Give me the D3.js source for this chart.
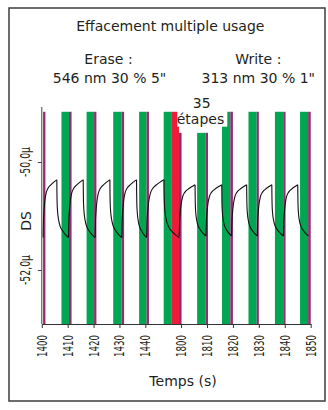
<!DOCTYPE html>
<html>
<head>
<meta charset="utf-8">
<script src="https://cdn.jsdelivr.net/npm/d3@7/dist/d3.min.js"></script>
<style>
  html, body { margin: 0; padding: 0; background: #fff; }
  svg { display: block; }
  text { font-family: "DejaVu Sans", sans-serif; fill: #231f20; }
</style>
</head>
<body>
<div id="chart"></div>
<script>
// ---------- data ----------
const title = "Effacement multiple usage";
const eraseLabel = ["Erase :", "546 nm 30 % 5\""];
const writeLabel = ["Write :", "313 nm 30 % 1\""];
const stepLabel = ["35", "étapes"];
const xTitle = "Temps (s)";
const yTitle = "DS";

// time axis is broken between 1450 and 1796.2 s
const xTicks = [1400, 1410, 1420, 1430, 1440, 1800, 1810, 1820, 1830, 1840, 1850];
const yTicks = [-50, -52];
const yTickLabels = ["-50,0µ", "-52,0µ"];

// illumination bars (start s, end s, kind, top DS)
const barStart = [1400.5, 1407.6, 1410.5, 1417.3, 1420.2, 1427.6, 1430.8, 1437.6, 1440.5, 1447.1,
                  1796.2, 1799.2, 1806.2, 1809.4, 1815.8, 1819.0, 1826.0, 1829.2, 1836.2, 1839.4, 1845.9, 1849.0];
const barEnd   = [1401.4, 1410.5, 1411.5, 1420.2, 1421.1, 1430.8, 1431.8, 1440.5, 1441.4, 1450.0,
                  1799.2, 1800.2, 1809.4, 1810.4, 1819.0, 1820.0, 1829.2, 1830.0, 1839.4, 1840.3, 1849.0, 1850.0];
const barKind  = ["write", "erase", "write", "erase", "write", "erase", "write", "erase", "write", "erase",
                  "steps", "write", "erase", "write", "erase", "write", "erase", "write", "erase", "write", "erase", "write"];
const barTop   = [-49.07, -49.07, -49.07, -49.07, -49.07, -49.07, -49.07, -49.07, -49.07, -49.07,
                  -49.07, -49.46, -49.46, -49.46, -49.07, -49.07, -49.07, -49.07, -49.07, -49.07, -49.07, -49.07];

// DS response, one rise + decay per cycle
const cycleStart = [1400.5, 1410.3, 1420.6, 1430.9, 1440.5, 1799.3, 1809.6, 1819.5, 1829.4, 1839.5];
const cyclePeak  = [1405.8, 1416.0, 1426.3, 1436.6, 1447.2, 1805.4, 1815.7, 1825.3, 1835.0, 1845.0];
const cycleEnd   = [1410.3, 1420.6, 1430.9, 1440.5, 1799.3, 1809.6, 1819.5, 1829.4, 1839.5, 1849.1];
const peakDS     = [-50.33, -50.33, -50.33, -50.33, -50.33, -50.42, -50.42, -50.42, -50.42, -50.42];
const lowDS      = [-51.40, -51.40, -51.40, -51.40, -51.40, -51.37, -51.37, -51.37, -51.37, -51.37];
// shape of the rise and of the decay (fraction of duration, fraction of amplitude)
const riseT = [0, 0.02, 0.06, 0.12, 0.22, 0.35, 0.55, 0.78, 1];
const riseA = [0, 0.25, 0.45, 0.62, 0.77, 0.85, 0.91, 0.96, 1];
const fallT = [0, 0.01, 0.03, 0.08, 0.15, 0.28, 0.45, 0.70, 1];
const fallA = [1, 0.80, 0.58, 0.42, 0.31, 0.20, 0.13, 0.06, 0];

// ---------- drawing ----------
const W = 328, H = 410;
const svg = d3.select("#chart").append("svg").attr("width", W).attr("height", H);

const kindColor = { erase: "#00a651", write: "#962b72", steps: "#ed1c3a" };

svg.append("rect").attr("x", 9).attr("y", 8).attr("width", 316).attr("height", 393)
  .attr("fill", "#fff").attr("stroke", "#3c3c3c").attr("stroke-width", 1.5);

const x = d3.scaleLinear()
  .domain([1400, 1450, 1796.2, 1850])
  .range([41.8, 171.2, 171.2, 310.7]);
const y = d3.scaleLinear().domain([-53, -49]).range([324, 108]);

// bars
svg.append("g").selectAll("rect").data(barStart.map((s, i) => i)).join("rect")
  .attr("x", i => x(barStart[i]))
  .attr("width", i => x(barEnd[i]) - x(barStart[i]))
  .attr("y", i => y(barTop[i]))
  .attr("height", i => y(-53) - y(barTop[i]))
  .attr("fill", i => kindColor[barKind[i]]);

// curve
const line = d3.line().x(d => d[0]).y(d => d[1]).curve(d3.curveMonotoneX);
const cg = svg.append("g").attr("fill", "none").attr("stroke", "#111").attr("stroke-width", 1.1);
cycleStart.forEach((s, i) => {
  const xs = x(s), xp = x(cyclePeak[i]), xe = x(cycleEnd[i]);
  const amp = peakDS[i] - lowDS[i];
  const rise = riseT.map((f, k) => [xs + f * (xp - xs), y(lowDS[i] + riseA[k] * amp)]);
  const fall = fallT.map((f, k) => [xp + f * (xe - xp), y(lowDS[i] + fallA[k] * amp)]);
  cg.append("path").attr("d", line(rise));
  cg.append("path").attr("d", line(fall));
});

// axes
const yAxis = svg.append("g").attr("transform", "translate(41.8,0)")
  .call(d3.axisLeft(y).tickValues(yTicks).tickSize(4).tickSizeOuter(0).tickFormat(""));
yAxis.select(".domain").attr("stroke", "#444").attr("d", "M0,107V324");
yAxis.selectAll(".tick line").attr("stroke", "#444");
yTicks.forEach((v, i) => {
  svg.append("text")
    .attr("transform", `translate(30.3,${y(v)}) rotate(-90)`)
    .attr("text-anchor", "middle")
    .attr("font-size", 14)
    .attr("textLength", 30).attr("lengthAdjust", "spacingAndGlyphs")
    .text(yTickLabels[i]);
});

const xAxis = svg.append("g").attr("transform", "translate(0,324)")
  .call(d3.axisBottom(x).tickValues(xTicks).tickSize(4).tickSizeOuter(0).tickFormat(""));
xAxis.select(".domain").attr("stroke", "#333");
xAxis.selectAll(".tick line").attr("stroke", "#333");
xTicks.forEach(v => {
  svg.append("text")
    .attr("transform", `translate(${x(v)},335) rotate(-90)`)
    .attr("text-anchor", "end")
    .attr("dy", "0.36em")
    .attr("font-size", 14)
    .attr("textLength", 22).attr("lengthAdjust", "spacingAndGlyphs")
    .text(v);
});

// titles
svg.append("text").attr("x", 170.3).attr("y", 31).attr("text-anchor", "middle")
  .attr("font-size", 14).text(title);
svg.append("text").attr("x", 108.5).attr("y", 64).attr("text-anchor", "middle")
  .attr("font-size", 14).text(eraseLabel[0]);
svg.append("text").attr("x", 109.5).attr("y", 82.7).attr("text-anchor", "middle")
  .attr("font-size", 14).text(eraseLabel[1]);
svg.append("text").attr("x", 258.3).attr("y", 64).attr("text-anchor", "middle")
  .attr("font-size", 14).text(writeLabel[0]);
svg.append("text").attr("x", 258.3).attr("y", 82.7).attr("text-anchor", "middle")
  .attr("font-size", 14).text(writeLabel[1]);

svg.append("text").attr("x", 183).attr("y", 386).attr("text-anchor", "middle")
  .attr("font-size", 14).text(xTitle);
svg.append("text").attr("transform", "translate(30.6,221) rotate(-90)")
  .attr("text-anchor", "middle").attr("font-size", 14).text(yTitle);

// "35 étapes" label with white box
svg.append("rect").attr("x", 177.3).attr("y", 110).attr("width", 50).attr("height", 16.7).attr("fill", "#fff");
svg.append("text").attr("x", 201.7).attr("y", 107.5).attr("text-anchor", "middle")
  .attr("font-size", 14).text(stepLabel[0]);
svg.append("text").attr("x", 200.5).attr("y", 123.5).attr("text-anchor", "middle")
  .attr("font-size", 14).text(stepLabel[1]);
</script>
</body>
</html>
